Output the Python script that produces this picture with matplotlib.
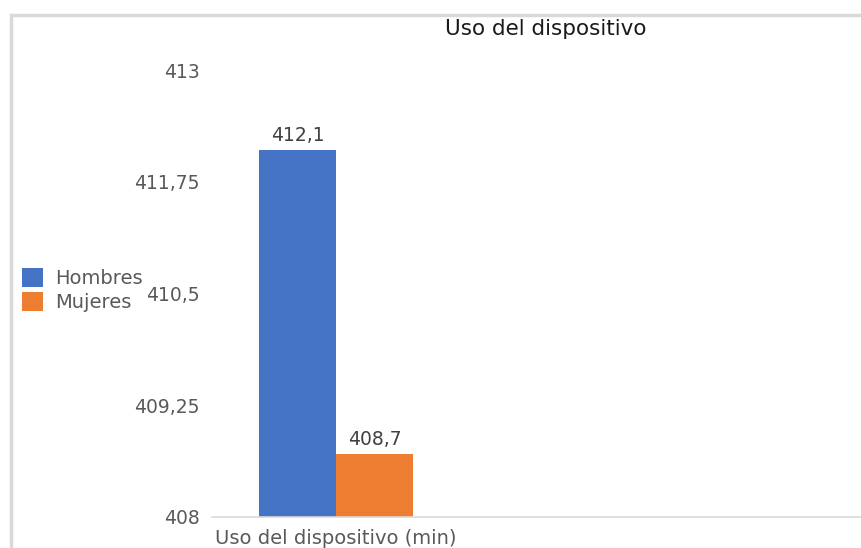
import matplotlib
matplotlib.use('Agg')
import matplotlib.pyplot as plt
from matplotlib.patches import Rectangle

# data
categories = ['Uso del dispositivo (min)']
series_names = ['Hombres', 'Mujeres']
hombres = [412.1]
mujeres = [408.7]
yticks = [408, 409.25, 410.5, 411.75, 413]
ytick_labels = ['408', '409,25', '410,5', '411,75', '413']

colors = ['#4472C4', '#ED7D31']
text_color = '#595959'

plt.rcParams['font.family'] = 'DejaVu Sans'

fig = plt.figure(figsize=(8.61, 5.48), dpi=100)
W, H = 861, 548
ax = fig.add_axes([212 / W, 1 - 517 / H, 1 - 212 / W, (517 - 70) / H])

width = 0.5
x = [0]
b1 = ax.bar([i - width / 2 for i in x], hombres, width, color=colors[0], label=series_names[0])
b2 = ax.bar([i + width / 2 for i in x], mujeres, width, color=colors[1], label=series_names[1])

for bars, vals in ((b1, hombres), (b2, mujeres)):
    for rect, v in zip(bars, vals):
        ax.annotate(f'{v}'.replace('.', ','), (rect.get_x() + rect.get_width() / 2, v),
                    xytext=(0, 4), textcoords='offset points', ha='center', va='bottom',
                    fontsize=13.5, color='#404040')

ax.set_ylim(408, 413)
ax.set_xlim(-124 / 154, 525 / 154)
ax.set_yticks(yticks)
ax.set_yticklabels(ytick_labels)
ax.tick_params(axis='y', length=0, pad=9, labelsize=13.5, labelcolor=text_color)
ax.set_xticks(x)
ax.set_xticklabels(categories)
ax.tick_params(axis='x', length=0, pad=9, labelsize=14, labelcolor=text_color)

for s in ['top', 'right', 'left']:
    ax.spines[s].set_visible(False)
ax.spines['bottom'].set_color('#d9d9d9')
ax.spines['bottom'].set_linewidth(1.2)

fig.text(546 / W, 1 - 29 / H, 'Uso del dispositivo', ha='center', va='center',
         fontsize=15.5, color='#1a1a1a')

# chart frame (partly cut off in the original screenshot)
fig.patches.append(Rectangle((11 / W, -0.1), 1.2, 1 - 15 / H + 0.1, transform=fig.transFigure,
                             fill=False, edgecolor='#d9d9d9', linewidth=2.5))

fig.legend(loc='center left', bbox_to_anchor=(22 / W, 1 - 290 / H), frameon=False,
           fontsize=14, labelcolor=text_color, handlelength=1.1, handleheight=1.1,
           handletextpad=0.6, labelspacing=0.2, borderaxespad=0, borderpad=0)

plt.savefig('out.png', dpi=100)
